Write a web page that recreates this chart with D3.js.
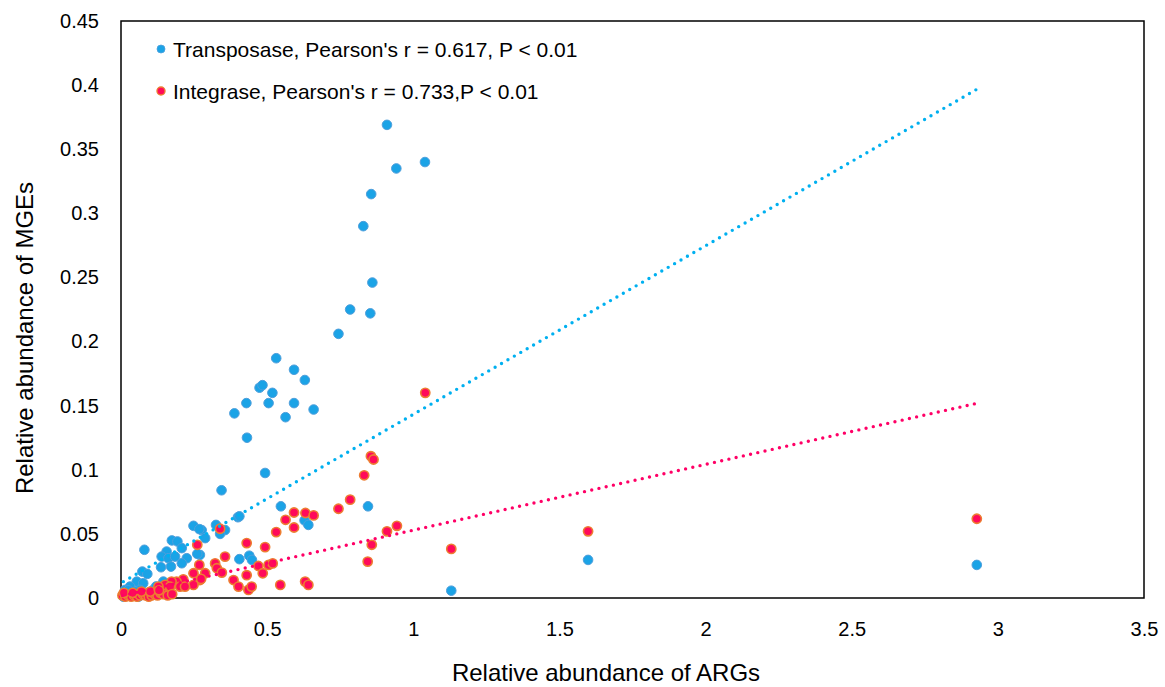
<!DOCTYPE html>
<html>
<head>
<meta charset="utf-8">
<script src="https://cdn.jsdelivr.net/npm/d3@7"></script>
<style>
  body { margin: 0; background: #fff; }
  text { font-family: "Liberation Sans", Arial, sans-serif; fill: #000; }
</style>
</head>
<body>
<script>
// data: [ARGs, MGEs]
const transposase = [
  [0.91,0.369],[0.942,0.335],[1.04,0.340],[0.856,0.315],[0.829,0.290],[0.86,0.246],[0.784,0.225],
  [0.853,0.222],[0.744,0.206],[0.531,0.187],[0.592,0.178],[0.629,0.170],[0.474,0.164],[0.484,0.166],
  [0.518,0.160],[0.429,0.152],[0.505,0.152],[0.592,0.152],[0.659,0.147],[0.388,0.144],[0.563,0.141],
  [0.431,0.125],[0.493,0.0975],[0.344,0.084],[0.547,0.0715],[0.845,0.0715],[0.40,0.063],[0.405,0.0637],
  [0.628,0.0605],[0.641,0.057],[0.325,0.057],[0.356,0.053],[0.339,0.050],[0.276,0.053],[0.288,0.0467],
  [0.248,0.0563],[0.268,0.0537],[0.27,0.0336],[0.405,0.0303],[0.439,0.033],[0.448,0.0297],
  [1.598,0.0297],[1.13,0.0057],[2.928,0.0258],
  [0.08,0.0376],[0.174,0.0449],[0.193,0.0441],[0.208,0.0389],[0.156,0.0362],[0.139,0.0323],[0.162,0.031],
  [0.185,0.0323],[0.225,0.031],[0.261,0.0344],[0.137,0.024],[0.171,0.0245],[0.208,0.0271],[0.073,0.0206],
  [0.09,0.0188],[0.054,0.0128],[0.076,0.0115],[0.145,0.0128],[0.031,0.0089],[0.014,0.0063],[0.065,0.0063],
  [0.11,0.0063],[0.045,0.004],[0.02,0.003],[0.035,0.002],[0.05,0.005],[0.1,0.004],[0.06,0.001],
  [0.008,0.001],[0.025,0.006],[0.12,0.009],[0.155,0.008]
];

const integrase = [
  [1.041,0.160],[0.855,0.1106],[0.864,0.108],[0.832,0.0957],[0.784,0.0767],[0.744,0.0696],[0.592,0.0667],
  [0.631,0.0663],[0.659,0.0644],[0.563,0.061],[0.592,0.055],[0.531,0.0514],[0.91,0.052],[0.944,0.0563],
  [0.43,0.0428],[0.493,0.0397],[0.858,0.0415],[0.356,0.0323],[0.844,0.0284],[0.322,0.027],[0.328,0.0232],
  [0.345,0.0198],[0.288,0.0193],[0.27,0.014],[0.43,0.0178],[0.47,0.025],[0.485,0.0193],[0.505,0.0258],
  [0.519,0.027],[0.385,0.014],[0.402,0.0089],[0.436,0.0063],[0.447,0.0089],[0.545,0.0102],[0.630,0.0128],
  [0.641,0.0102],[0.339,0.054],[1.13,0.0383],[1.598,0.052],[2.928,0.0618],[0.261,0.0415],[0.268,0.0258],
  [0.248,0.0193],[0.274,0.0149],[0.248,0.0102],[0.213,0.0146],[0.19,0.0128],[0.173,0.0128],[0.151,0.0102],
  [0.128,0.0089],[0.168,0.0089],[0.202,0.0089],[0.219,0.0089],
  [0.005,0.002],[0.015,0.001],[0.025,0.002],[0.035,0.001],[0.045,0.002],[0.055,0.001],[0.065,0.002],
  [0.075,0.003],[0.085,0.002],[0.095,0.001],[0.105,0.002],[0.115,0.003],[0.125,0.002],[0.135,0.004],
  [0.145,0.003],[0.16,0.002],[0.175,0.003],[0.01,0.004],[0.04,0.004],[0.07,0.005],[0.1,0.005],[0.13,0.006]
];

// trend lines (slope, intercept)
const transposaseFit = [0.1315, 0.0117];
const integraseFit = [0.0513, 0.0016];

const xTicks = [0, 0.5, 1, 1.5, 2, 2.5, 3, 3.5];
const yTicks = [0, 0.05, 0.1, 0.15, 0.2, 0.25, 0.3, 0.35, 0.4, 0.45];

const legendLabels = [
  "Transposase, Pearson's r = 0.617, P < 0.01",
  "Integrase, Pearson's r = 0.733,P < 0.01"
];

var width = 1165, height = 687;
const margin = {left: 121, top: 21, right: 21, bottom: 89};

var svg = d3.select("body").append("svg")
    .attr("width", width)
    .attr("height", height);

var x = d3.scaleLinear().domain([0, 3.5]).range([margin.left, width - margin.right]);
var y = d3.scaleLinear().domain([0, 0.45]).range([height - margin.bottom, margin.top]);

// frame
svg.append("rect")
    .attr("x", x(0)).attr("y", y(0.45))
    .attr("width", x(3.5) - x(0)).attr("height", y(0) - y(0.45))
    .attr("fill", "none").attr("stroke", "#000").attr("stroke-width", 1.5);

// axes, labels only
var xAxis = svg.append("g")
    .attr("transform", "translate(0," + y(0) + ")")
    .call(d3.axisBottom(x).tickValues(xTicks).tickSize(0).tickPadding(24).tickFormat(d3.format("")));
var yAxis = svg.append("g")
    .attr("transform", "translate(" + x(0) + ",0)")
    .call(d3.axisLeft(y).tickValues(yTicks).tickSize(0).tickPadding(22).tickFormat(d3.format("")));
svg.selectAll(".domain").remove();
svg.selectAll(".tick text")
    .style("font-family", "'Liberation Sans', Arial, sans-serif")
    .style("font-size", "20px")
    .attr("fill", "#000");

svg.append("text")
    .attr("x", 606).attr("y", 681)
    .attr("text-anchor", "middle")
    .style("font-size", "24px")
    .text("Relative abundance of ARGs");

svg.append("text")
    .attr("transform", "translate(33,338) rotate(-90)")
    .attr("text-anchor", "middle")
    .style("font-size", "24px")
    .text("Relative abundance of MGEs");

// points
svg.append("g").selectAll("circle")
    .data(transposase)
    .join("circle")
    .attr("cx", function(d) { return x(d[0]); })
    .attr("cy", function(d) { return y(d[1]); })
    .attr("r", 4.8)
    .attr("fill", "#1ba3e6")
    .attr("stroke", "#4f9fdc")
    .attr("stroke-width", 1);

svg.append("g").selectAll("circle")
    .data(integrase)
    .join("circle")
    .attr("cx", function(d) { return x(d[0]); })
    .attr("cy", function(d) { return y(d[1]); })
    .attr("r", 4.6)
    .attr("fill", "#ff0a5a")
    .attr("stroke", "#ed7d31")
    .attr("stroke-width", 1.6);

// dotted trend lines
function trend(data, fit, color) {
  var ext = d3.extent(data, function(d) { return d[0]; });
  svg.append("line")
      .attr("x1", x(ext[0])).attr("y1", y(fit[0] * ext[0] + fit[1]))
      .attr("x2", x(ext[1])).attr("y2", y(fit[0] * ext[1] + fit[1]))
      .attr("stroke", color)
      .attr("stroke-width", 3.4)
      .attr("stroke-linecap", "round")
      .attr("stroke-dasharray", "0 7.4");
}
trend(transposase, transposaseFit, "#00b0f0");
trend(integrase, integraseFit, "#ff0066");

// legend
var legend = svg.append("g").selectAll("g")
    .data(legendLabels)
    .join("g")
    .attr("transform", function(d, i) { return "translate(161," + (49 + i * 42) + ")"; });

legend.append("circle")
    .attr("r", 4)
    .attr("fill", function(d, i) { return i ? "#ff0a5a" : "#1ba3e6"; })
    .attr("stroke", function(d, i) { return i ? "#ed7d31" : "#4f9fdc"; })
    .attr("stroke-width", function(d, i) { return i ? 1.4 : 0.8; });

legend.append("text")
    .attr("x", 12).attr("y", 7.5)
    .style("font-size", "21px")
    .text(function(d) { return d; });
</script>
</body>
</html>
